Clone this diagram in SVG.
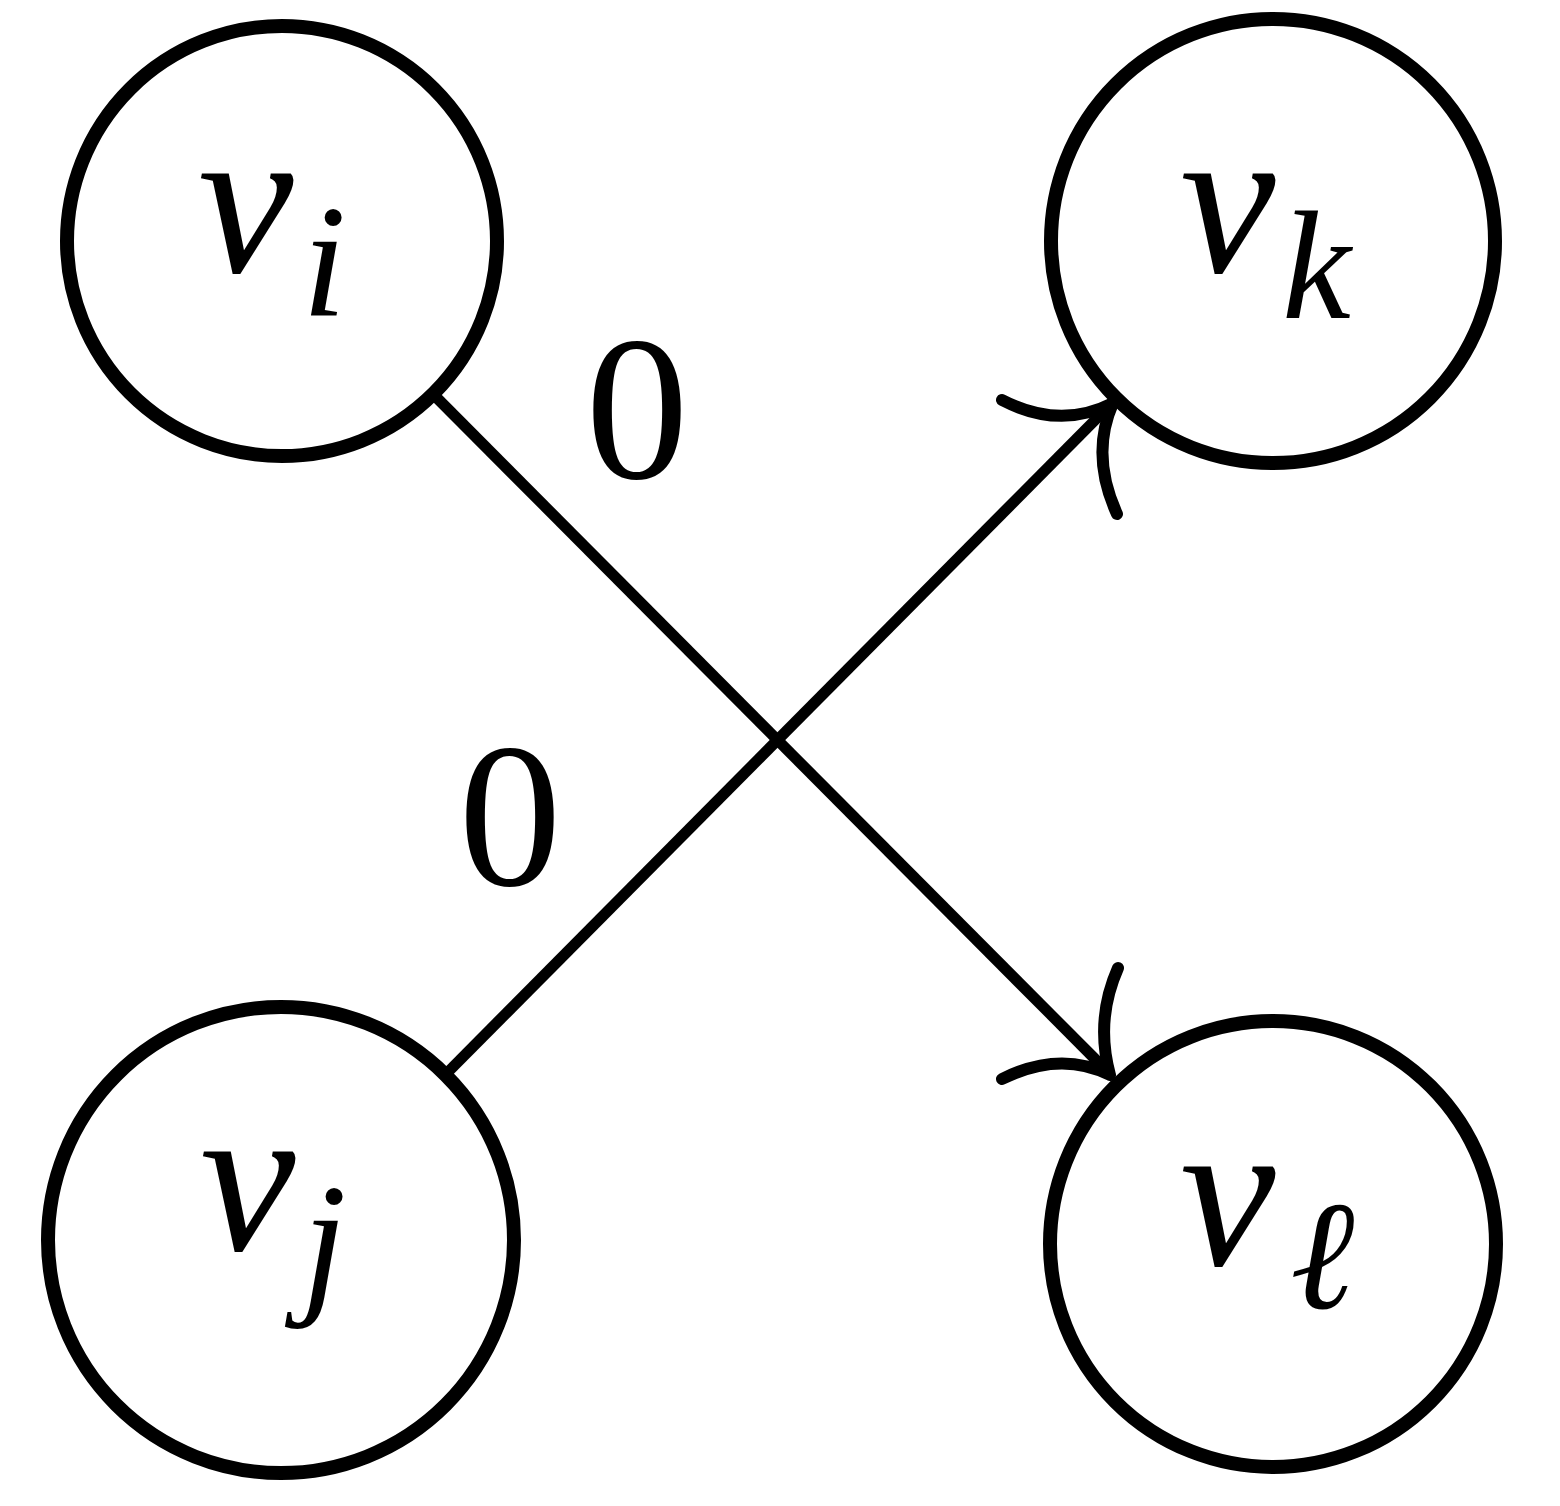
<svg xmlns="http://www.w3.org/2000/svg" width="1560" height="1506" viewBox="0 0 1560 1506">
<style>
.node{fill:none;stroke:#000;stroke-width:14}
.edge{fill:none;stroke:#000;stroke-width:11}
.head{fill:none;stroke:#000;stroke-width:12;stroke-linecap:round}
.m{font-family:"Liberation Serif","DejaVu Serif",serif;font-style:italic;fill:#000}
.n{font-family:"Liberation Serif","DejaVu Serif",serif;fill:#000}
</style>
<rect width="1560" height="1506" fill="#fff"/>
<g id="connectors">
<line class="edge" x1="432" y1="393" x2="1108" y2="1072"/>
<path class="head" d="M1002,1079 Q1060,1050 1110,1075 M1118,968 Q1095,1020 1110,1075"/>
<line class="edge" x1="447" y1="1073" x2="1110" y2="405"/>
<path class="head" d="M1002,400 Q1060,430 1113,403 M1117,514 Q1090,455 1113,403"/>
<text class="n" x="637" y="478" font-size="206" text-anchor="middle">0</text>
<text class="n" x="510" y="885" font-size="206" text-anchor="middle">0</text>
</g>
<g id="vi">
<circle class="node" cx="282" cy="241" r="215"/>
<text class="m" x="198" y="272" font-size="215">v</text>
<text class="m" x="302" y="316" font-size="160">i</text>
</g>
<g id="vk">
<circle class="node" cx="1273" cy="241" r="222"/>
<text class="m" x="1180" y="272" font-size="215">v</text>
<text class="m" x="1282" y="318" font-size="155">k</text>
</g>
<g id="vj">
<circle class="node" cx="281" cy="1240" r="233"/>
<text class="m" x="200" y="1250" font-size="215">v</text>
<text class="m" x="302" y="1295" font-size="160">j</text>
</g>
<g id="vl">
<circle class="node" cx="1273" cy="1244" r="223"/>
<text class="m" x="1180" y="1265" font-size="215">v</text>
<text class="m" x="1290" y="1308" font-size="155">ℓ</text>
</g>
</svg>
